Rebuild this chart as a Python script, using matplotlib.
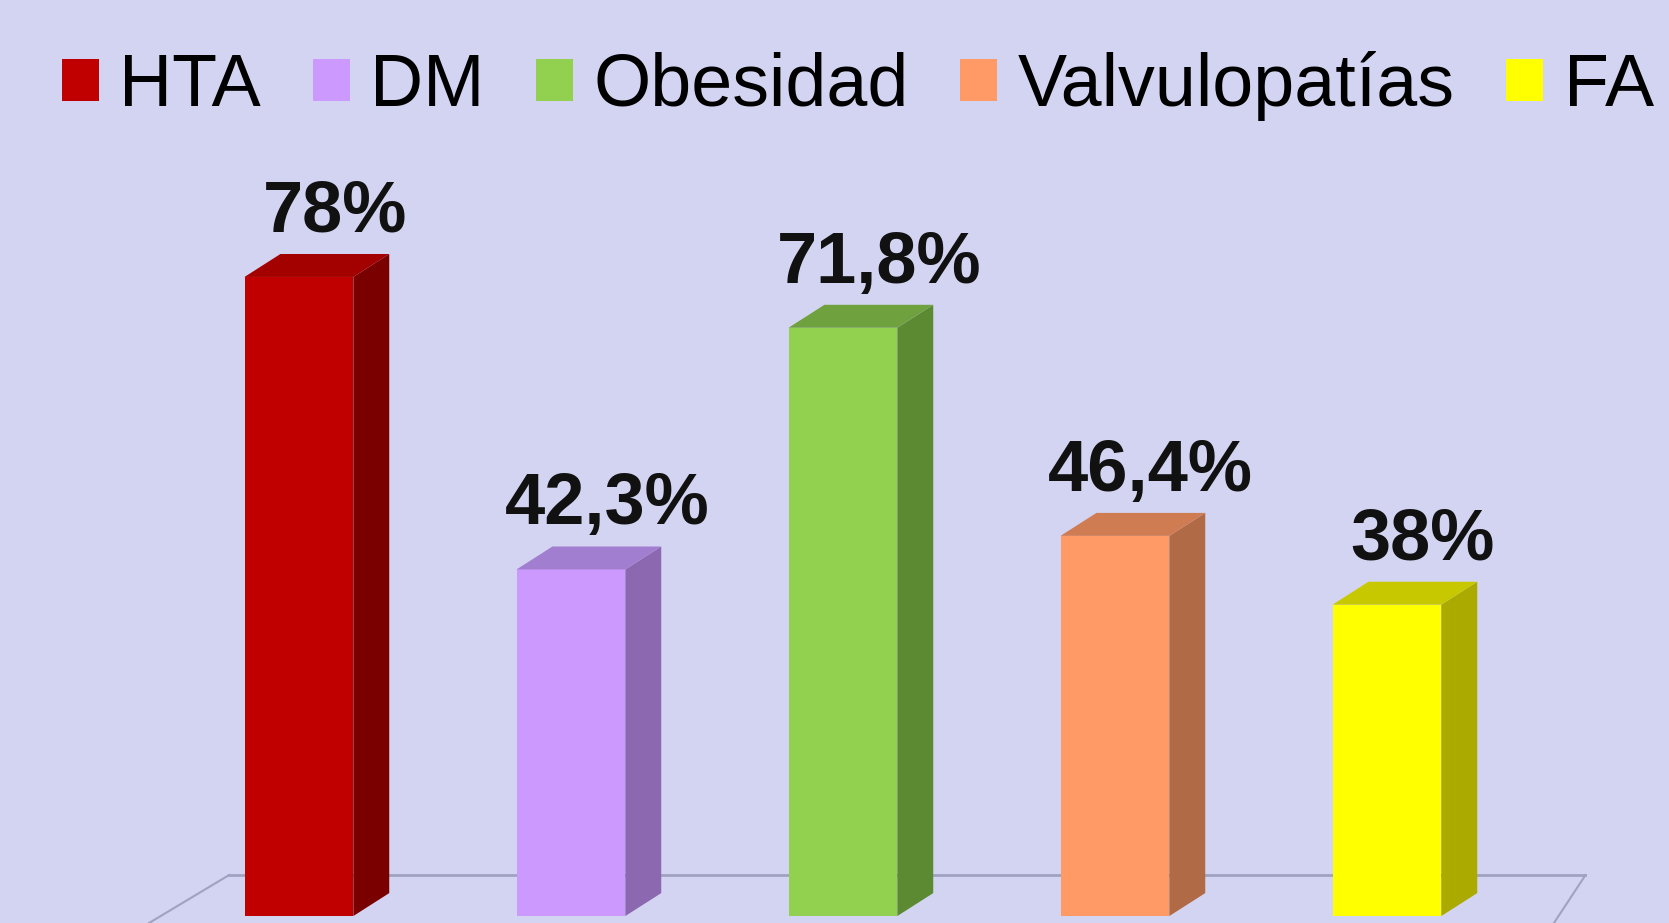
import numpy as np
import matplotlib.pyplot as plt
from matplotlib.patches import Polygon, Patch

categorias = ['HTA', 'DM', 'Obesidad', 'Valvulopatías', 'FA']
valores = [78, 42.3, 71.8, 46.4, 38]
etiquetas = ['78%', '42,3%', '71,8%', '46,4%', '38%']

col_frente = ['#C00000', '#CC99FF', '#92D050', '#FF9966', '#FFFF00']
col_lado = ['#7A0000', '#8C68B0', '#5C8A33', '#B06A45', '#AAAA00']
col_techo = ['#A30000', '#A27ED0', '#6FA23E', '#D07C52', '#C8C800']

fondo = '#D3D4F1'

fig = plt.figure(figsize=(16.69, 9.23), dpi=100, facecolor=fondo)
ax = fig.add_axes([0, 0, 1, 1])
ax.set_facecolor(fondo)
ax.set_xlim(-1.099, 5.037)
ax.set_ylim(-0.85, 111.8)
ax.axis('off')

x = np.arange(len(categorias))
ancho = 0.4
dx, dy = 0.132, 2.8  # profundidad "3D"

# suelo (solo el contorno)
n = len(categorias)
fondo_y = 5.0
ax.plot([-0.257, n - 0.27], [fondo_y, fondo_y], color='#A0A2C2', lw=2, zorder=1)
ax.plot([-0.257, -0.551], [fondo_y, -0.85], color='#A0A2C2', lw=1.5, zorder=1)
ax.plot([n - 0.27, n - 0.386], [fondo_y, -0.85], color='#A0A2C2', lw=1.5, zorder=1)

ax.bar(x, valores, width=ancho, color=col_frente, zorder=3)

for xi, v, cl, ct, et in zip(x, valores, col_lado, col_techo, etiquetas):
    x0, x1 = xi - ancho / 2, xi + ancho / 2
    ax.add_patch(Polygon([(x1, 0), (x1 + dx, dy), (x1 + dx, v + dy), (x1, v)],
                         closed=True, facecolor=cl, edgecolor='none', zorder=3))
    ax.add_patch(Polygon([(x0, v), (x1, v), (x1 + dx, v + dy), (x0 + dx, v + dy)],
                         closed=True, facecolor=ct, edgecolor='none', zorder=3))
    ax.text(xi + dx, v + 5.5, et, ha='center', va='baseline', fontsize=52,
            fontweight='bold', family='Liberation Sans', color='#111111')

handles = [Patch(facecolor=c, edgecolor='none') for c in col_frente]
fig.legend(handles=handles, labels=categorias, ncol=5, loc='center left',
           bbox_to_anchor=(62 / 1669, 1 - 86 / 923), frameon=False,
           prop={'family': 'Liberation Sans', 'size': 53},
           handlelength=0.5, handleheight=0.5, handletextpad=0.28,
           columnspacing=0.7, borderpad=0, borderaxespad=0)

fig.savefig('out.png', dpi=100, facecolor=fondo)
